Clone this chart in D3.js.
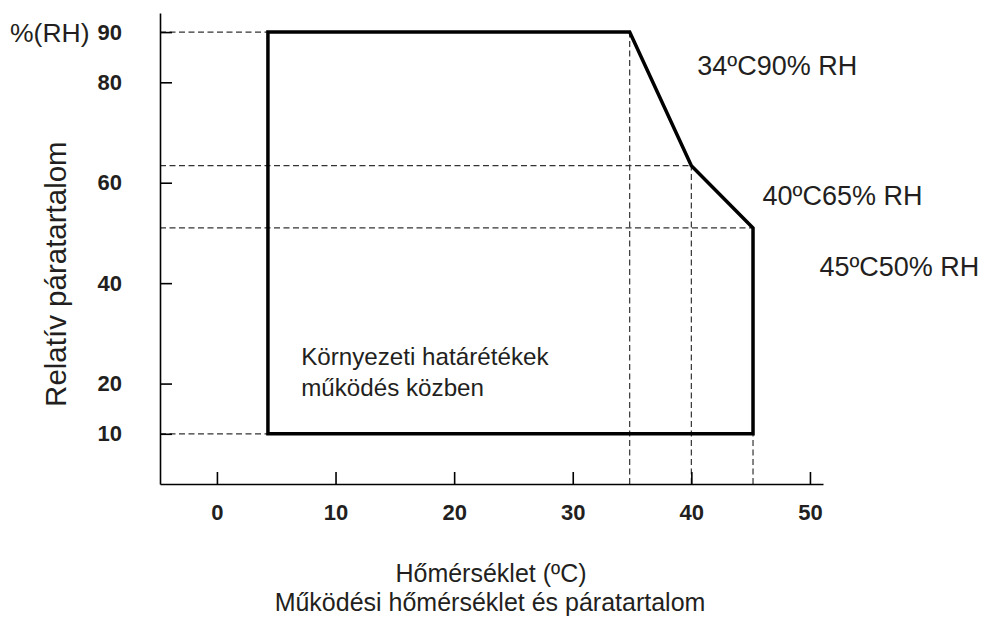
<!DOCTYPE html>
<html>
<head>
<meta charset="utf-8">
<script src="https://cdn.jsdelivr.net/npm/d3@7"></script>
<style>
  body { margin: 0; background: #fff; }
  svg { font-family: "Liberation Sans", Arial, sans-serif; }
  .tick text { font-weight: bold; font-size: 22px; fill: #231f20; }
  .label { font-size: 25px; fill: #231f20; }
</style>
</head>
<body>
<div id="chart"></div>
<script>
// operating envelope (temperature ºC, relative humidity %)
const envTemp = [4.3, 4.3, 34.8, 40, 45.2, 45.2];
const envRH = [10, 90, 90, 63.4, 51, 10];

const xTicks = [0, 10, 20, 30, 40, 50];
const yTicks = [10, 20, 40, 60, 80, 90];

// corner annotations: [temperature, rh, text]
const cornerLabels = [
  { t: 40.5, rh: 81.5, text: "34ºC90% RH" },
  { t: 46, rh: 55.5, text: "40ºC65% RH" },
  { t: 50.8, rh: 41.5, text: "45ºC50% RH" },
];

const width = 981;
const height = 619;

const svg = d3
  .select("#chart")
  .append("svg")
  .attr("width", width)
  .attr("height", height);

const x = d3.scaleLinear().domain([-4.8, 51.1]).range([160, 823]);
const y = d3.scaleLinear().domain([0, 93.8]).range([484, 13]);

const points = envTemp.map((t, i) => [t, envRH[i]]);

// dashed reference lines
const guides = svg.append("g").attr("class", "guides")
  .attr("stroke", "#333")
  .attr("stroke-width", 1.2)
  .attr("stroke-dasharray", "6,3.5");

// horizontal guides from the y axis to each envelope corner
const hGuides = [
  [envTemp[0], envRH[0]],
  [envTemp[1], envRH[1]],
  [envTemp[3], envRH[3]],
  [envTemp[4], envRH[4]],
];
guides.selectAll(".hguide")
  .data(hGuides)
  .join("line")
  .attr("class", "hguide")
  .attr("x1", x(x.domain()[0]))
  .attr("x2", (d) => x(d[0]))
  .attr("y1", (d) => y(d[1]))
  .attr("y2", (d) => y(d[1]));

// vertical guides from the x axis up to the corners
const vGuides = [
  [envTemp[2], envRH[2]],
  [envTemp[3], envRH[3]],
  [envTemp[4], envRH[4]],
];
guides.selectAll(".vguide")
  .data(vGuides)
  .join("line")
  .attr("class", "vguide")
  .attr("x1", (d) => x(d[0]))
  .attr("x2", (d) => x(d[0]))
  .attr("y1", y(0))
  .attr("y2", (d) => y(d[1]));

// envelope outline
svg.append("path")
  .datum(points)
  .attr("fill", "none")
  .attr("stroke", "#000")
  .attr("stroke-width", 3.5)
  .attr("stroke-linejoin", "miter")
  .attr("d", (d) => d3.line().x((p) => x(p[0])).y((p) => y(p[1]))(d) + "Z");

// axes
const xAxis = d3.axisBottom(x)
  .tickValues(xTicks)
  .tickSizeInner(-12)
  .tickSizeOuter(0)
  .tickPadding(20);

const yAxis = d3.axisLeft(y)
  .tickValues(yTicks)
  .tickSizeInner(-12)
  .tickSizeOuter(0)
  .tickPadding(38);

svg.append("g")
  .attr("class", "x-axis")
  .attr("transform", `translate(0,${y(0)})`)
  .call(xAxis)
  .call((g) => g.selectAll("line, path").attr("stroke", "#000").attr("stroke-width", 1.6))
  .call((g) => g.selectAll("text").attr("fill", "#231f20"));

svg.append("g")
  .attr("class", "y-axis")
  .attr("transform", `translate(${x(x.domain()[0])},0)`)
  .call(yAxis)
  .call((g) => g.selectAll("line, path").attr("stroke", "#000").attr("stroke-width", 1.6))
  .call((g) => g.selectAll("text").attr("fill", "#231f20"));

// corner annotations
svg.selectAll(".corner-label")
  .data(cornerLabels)
  .join("text")
  .attr("class", "label corner-label")
  .style("font-size", "27px")
  .attr("x", (d) => x(d.t))
  .attr("y", (d) => y(d.rh))
  .text((d) => d.text);

// inner label
svg.append("text")
  .attr("class", "label")
  .style("font-size", "24.2px")
  .attr("y", y(23.6))
  .call((t) => {
    t.append("tspan").attr("x", x(7.1)).text("Környezeti határétékek");
    t.append("tspan").attr("x", x(7.1)).attr("dy", 31).text("működés közben");
  });

// axis titles
svg.append("text")
  .attr("class", "label")
  .style("font-size", "26.5px")
  .attr("x", 10)
  .attr("y", 42)
  .text("%(RH)");

svg.append("text")
  .attr("class", "label")
  .style("font-size", "29.5px")
  .attr("text-anchor", "middle")
  .attr("transform", `translate(66,${y(41.8)}) rotate(-90)`)
  .text("Relatív páratartalom");

svg.append("text")
  .attr("class", "label")
  .attr("text-anchor", "middle")
  .attr("x", 491)
  .attr("y", 582)
  .text("Hőmérséklet (ºC)");

svg.append("text")
  .attr("class", "label")
  .attr("text-anchor", "middle")
  .attr("x", 490)
  .attr("y", 611)
  .text("Működési hőmérséklet és páratartalom");
</script>
</body>
</html>
